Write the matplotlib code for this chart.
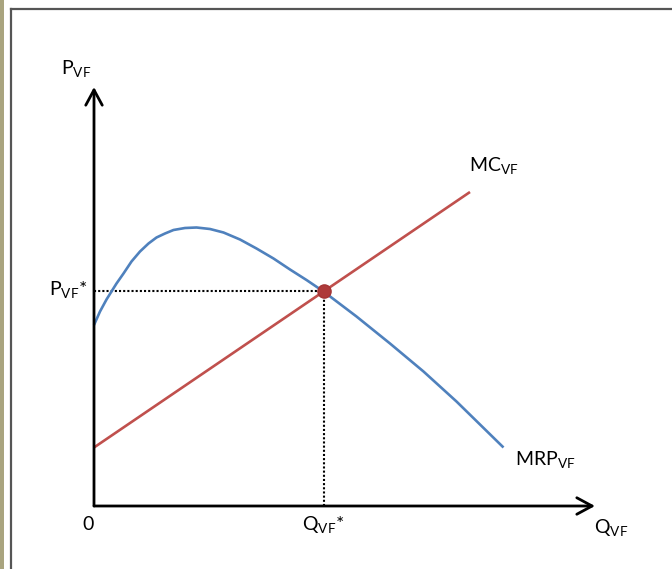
"""
Factor market diagram: MRP and MC curves for a variable factor (VF),
with the equilibrium price/quantity marked by dotted guides.
"""

import matplotlib.pyplot as plt
from matplotlib.patches import Rectangle

plt.rcParams["font.family"] = ["Lato", "DejaVu Sans"]
plt.rcParams["mathtext.fontset"] = "custom"
plt.rcParams["mathtext.rm"] = "Lato"

# MRP curve (rises, peaks, then falls)
MRP_Q = [0.0, 0.12, 0.25, 0.35, 0.45, 0.59, 0.75, 0.92, 1.09, 1.25, 1.42,
         1.59, 1.82, 2.05, 2.32, 2.59, 2.92, 3.25, 3.59, 3.92, 4.25, 4.59,
         5.25, 5.92, 6.59, 7.25, 8.19]
MRP_P = [3.62, 3.89, 4.13, 4.29, 4.45, 4.65, 4.89, 5.09, 5.25, 5.37, 5.45,
         5.52, 5.56, 5.57, 5.54, 5.47, 5.33, 5.15, 4.95, 4.73, 4.52, 4.29,
         3.79, 3.25, 2.69, 2.09, 1.17]

# MC line (upward sloping)
MC_Q = [0.0, 7.52]
MC_P = [1.17, 6.28]

# equilibrium
Q_STAR = 4.59
P_STAR = 4.31

AXIS_TOP = 8.38
AXIS_RIGHT = 10.02

BLUE = "#4F81BD"
RED = "#C0504D"

fig = plt.figure(figsize=(6.72, 5.69), dpi=100)

# page frame decorations
fig.patches.append(Rectangle((0, 0), 4 / 672, 1, transform=fig.transFigure,
                             facecolor="#A9A47F", edgecolor="none"))
fig.add_artist(plt.Line2D([11 / 672, 11 / 672], [0, 1 - 9 / 569],
                          transform=fig.transFigure, color="#555555", lw=1.6))
fig.add_artist(plt.Line2D([11 / 672, 1], [1 - 9 / 569, 1 - 9 / 569],
                          transform=fig.transFigure, color="#555555", lw=1.6))

ax = fig.add_axes([0, 0, 1, 1])
ax.set_xlim(-1.88, 11.56)
ax.set_ylim(-1.26, 10.12)
ax.axis("off")

# axes with open arrowheads
arrow = dict(arrowstyle="->,head_width=0.27,head_length=0.5", color="black",
             lw=2.0, mutation_scale=22, shrinkA=0, shrinkB=0)
ax.annotate("", xy=(0, AXIS_TOP), xytext=(0, 0), arrowprops=arrow)
ax.annotate("", xy=(AXIS_RIGHT, 0), xytext=(0, 0), arrowprops=arrow)

# dotted guides to the equilibrium
ax.plot([0, Q_STAR], [P_STAR, P_STAR], color="black", lw=1.5,
        linestyle=(0, (1, 1)))
ax.plot([Q_STAR, Q_STAR], [0, P_STAR], color="black", lw=1.5,
        linestyle=(0, (1, 1)))

ax.plot(MC_Q, MC_P, color=RED, lw=1.9, solid_capstyle="butt")
ax.plot(MRP_Q, MRP_P, color=BLUE, lw=1.9, solid_capstyle="butt",
        solid_joinstyle="round")
ax.plot([Q_STAR], [P_STAR], "o", color="#AE3A3A", markersize=9.5,
        markeredgecolor="#A53434", zorder=5)

fs = 14
ax.text(-0.36, 8.74, r"$\mathrm{P}_{\mathrm{VF}}$", fontsize=fs,
        ha="center", va="center")
ax.text(-0.12, P_STAR, r"$\mathrm{P}_{\mathrm{VF}}$*", fontsize=fs,
        ha="right", va="center")
ax.text(-0.12, -0.38, "0", fontsize=fs, ha="center", va="center")
ax.text(Q_STAR, -0.38, r"$\mathrm{Q}_{\mathrm{VF}}$*", fontsize=fs,
        ha="center", va="center")
ax.text(AXIS_RIGHT + 0.32, -0.44, r"$\mathrm{Q}_{\mathrm{VF}}$", fontsize=fs,
        ha="center", va="center")
ax.text(7.5, 6.8, r"$\mathrm{MC}_{\mathrm{VF}}$", fontsize=fs,
        ha="left", va="center")
ax.text(8.42, 0.92, r"$\mathrm{MRP}_{\mathrm{VF}}$", fontsize=fs,
        ha="left", va="center")

fig.savefig("out.png", dpi=100)
